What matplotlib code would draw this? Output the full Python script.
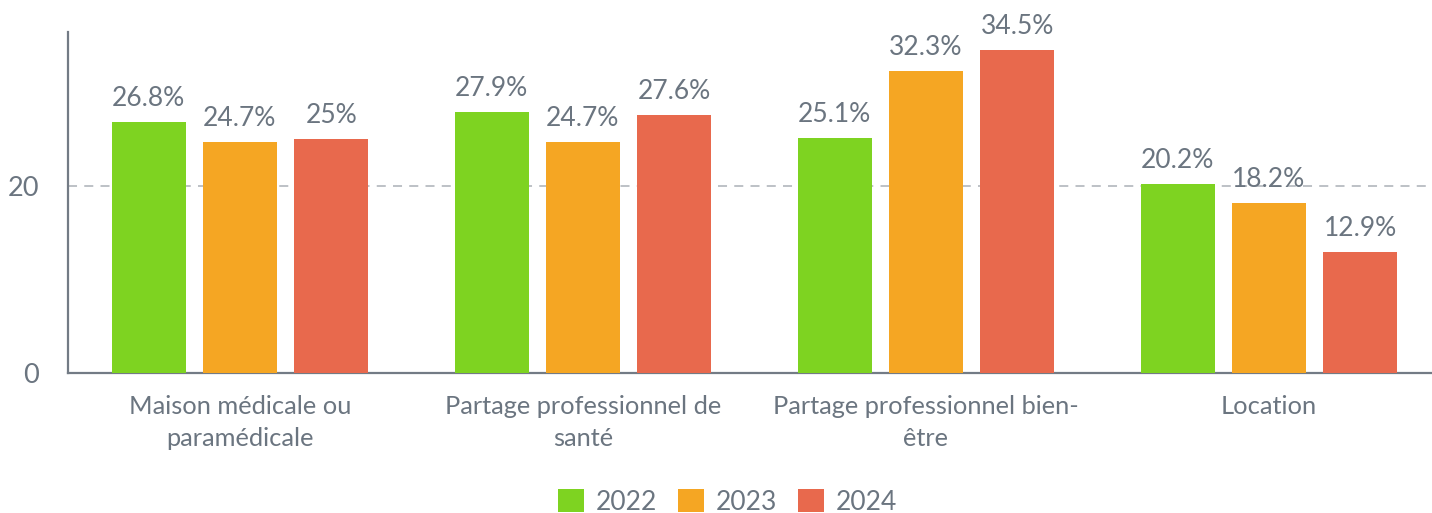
import matplotlib.pyplot as plt
import numpy as np

plt.rcParams["font.family"] = ["Lato", "DejaVu Sans"]

categories = ["Maison médicale ou\nparamédicale", "Partage professionnel de\nsanté",
              "Partage professionnel bien-\nêtre", "Location"]
years = ["2022", "2023", "2024"]
values_2022 = [26.8, 27.9, 25.1, 20.2]
values_2023 = [24.7, 24.7, 32.3, 18.2]
values_2024 = [25.0, 27.6, 34.5, 12.9]
labels_2022 = ["26.8%", "27.9%", "25.1%", "20.2%"]
labels_2023 = ["24.7%", "24.7%", "32.3%", "18.2%"]
labels_2024 = ["25%", "27.6%", "34.5%", "12.9%"]

colors = ["#7ED321", "#F5A623", "#E8694D"]
text_col = "#6b7580"
axis_col = "#737b85"

fig = plt.figure(figsize=(14.32, 5.13), dpi=100)
ax = fig.add_axes([0.0478, 0.273, 0.958, 0.665])

x = np.arange(len(categories))
width = 0.216
offset = 0.266
series = [values_2022, values_2023, values_2024]
labels = [labels_2022, labels_2023, labels_2024]

for i, (vals, labs) in enumerate(zip(series, labels)):
    pos = x + (i - 1) * offset
    ax.bar(pos, vals, width, color=colors[i], label=years[i], zorder=3)
    for p, v, l in zip(pos, vals, labs):
        ax.annotate(l, (p, v), xytext=(0, 8), textcoords="offset points",
                    ha="center", va="bottom", fontsize=19, color=text_col, zorder=4)

ax.set_xlim(-0.5, len(categories) - 0.5)
ax.set_ylim(0, 36.5)
ax.set_yticks([0, 20])
ax.set_yticklabels(["0", "20"])
ax.set_xticks(x)
ax.set_xticklabels(categories, linespacing=1.45)
ax.tick_params(axis="y", length=0, pad=21, labelsize=19.5, labelcolor=text_col)
ax.tick_params(axis="x", length=0, pad=16, labelsize=18.3, labelcolor=text_col)
ax.axhline(20, color="#b8bcc2", linestyle=(0, (5, 4)), linewidth=1.3, zorder=1)

for s in ["top", "right"]:
    ax.spines[s].set_visible(False)
ax.spines["left"].set_color(axis_col)
ax.spines["bottom"].set_color(axis_col)
ax.spines["left"].set_linewidth(1.6)
ax.spines["bottom"].set_linewidth(1.6)

fig.legend(loc="lower center", bbox_to_anchor=(0.508, -0.05), ncol=3, frameon=False,
           fontsize=19, handlelength=0.98, handleheight=0.98, handletextpad=0.45,
           columnspacing=0.8, labelcolor=text_col)

fig.savefig("out.png", dpi=100)
